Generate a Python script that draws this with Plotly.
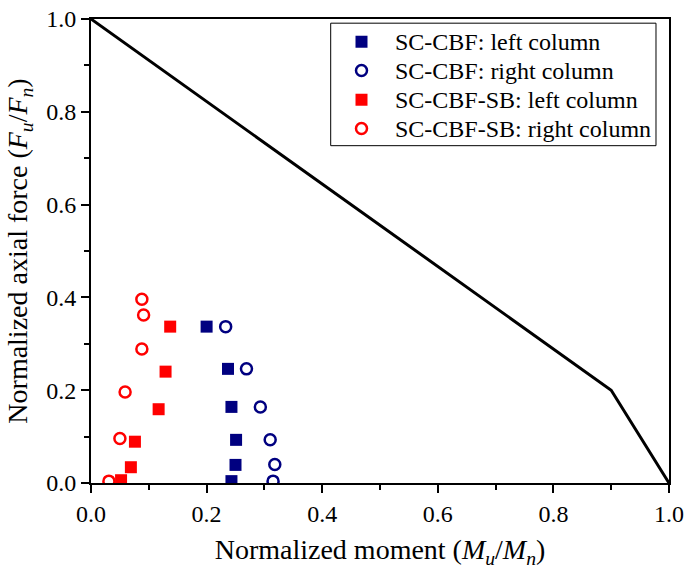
import plotly.graph_objects as go

# Interaction curve
curve_x = [0.0, 0.9, 1.0]
curve_y = [1.0, 0.2, 0.0]

# SC-CBF left column (filled squares, navy)
cbf_left_x = [0.200, 0.237, 0.243, 0.251, 0.250, 0.243]
cbf_left_y = [0.337, 0.246, 0.164, 0.093, 0.039, 0.004]
# SC-CBF right column (open circles, navy)
cbf_right_x = [0.233, 0.269, 0.293, 0.310, 0.318, 0.315]
cbf_right_y = [0.337, 0.246, 0.164, 0.093, 0.040, 0.004]
# SC-CBF-SB left column (filled squares, red)
sb_left_x = [0.137, 0.129, 0.117, 0.076, 0.069, 0.052]
sb_left_y = [0.337, 0.240, 0.159, 0.089, 0.034, 0.006]
# SC-CBF-SB right column (open circles, red)
sb_right_x = [0.088, 0.091, 0.088, 0.059, 0.050, 0.031]
sb_right_y = [0.396, 0.362, 0.289, 0.196, 0.096, 0.004]

series_names = ["SC-CBF: left column", "SC-CBF: right column",
                "SC-CBF-SB: left column", "SC-CBF-SB: right column"]

FONT = "Times New Roman, Liberation Serif, serif"
NAVY = "#000080"
RED = "#FF0000"

markers = [
    dict(symbol="square", size=12, color=NAVY),
    dict(symbol="circle-open", size=11, color=NAVY, line=dict(width=2.5, color=NAVY)),
    dict(symbol="square", size=12, color=RED),
    dict(symbol="circle-open", size=11, color=RED, line=dict(width=2.5, color=RED)),
]
data = [(cbf_left_x, cbf_left_y), (cbf_right_x, cbf_right_y),
        (sb_left_x, sb_left_y), (sb_right_x, sb_right_y)]

fig = go.Figure()
fig.add_trace(go.Scatter(x=curve_x, y=curve_y, mode="lines",
                         line=dict(color="black", width=3), showlegend=False))
for (xs, ys), name, mk in zip(data, series_names, markers):
    fig.add_trace(go.Scatter(x=xs, y=ys, mode="markers", name=name,
                             marker=mk, showlegend=False))

# Manual legend (paper-fraction positions of the plot area)
leg_box = dict(x0=0.4147, x1=0.9775, y0=0.727, y1=0.991)
leg_rows = [0.951, 0.889, 0.826, 0.764]
leg_sym_x = 0.468
leg_txt_x = 0.522

fig.add_shape(type="rect", xref="paper", yref="paper", layer="below",
              line=dict(color="black", width=1), fillcolor="white", **leg_box)
for y, name, mk in zip(leg_rows, series_names, markers):
    fig.add_trace(go.Scatter(x=[leg_sym_x], y=[y], mode="markers", marker=mk,
                             xaxis="x2", yaxis="y2", showlegend=False,
                             hoverinfo="skip"))
    fig.add_annotation(x=leg_txt_x, y=y, xref="paper", yref="paper",
                       text=name, showarrow=False, xanchor="left",
                       yanchor="middle",
                       font=dict(family=FONT, size=24, color="black"))

axis_common = dict(
    range=[0, 1], dtick=0.2, tick0=0, tickformat=".1f",
    showgrid=False, zeroline=False, automargin=False,
    showline=True, linecolor="black", linewidth=2, mirror=True,
    ticks="outside", ticklen=8, tickwidth=1.5, tickcolor="black",
    tickfont=dict(family=FONT, size=24, color="black"),
    minor=dict(dtick=0.1, ticks="outside", ticklen=5, tickwidth=1.5, tickcolor="black"),
)

fig.update_layout(
    width=686, height=573,
    margin=dict(l=91, r=17, t=19, b=90),
    paper_bgcolor="white", plot_bgcolor="white",
    font=dict(family=FONT, color="black"),
    xaxis=dict(**axis_common,
               title=dict(text="Normalized moment (<i>M</i><sub><i>u</i></sub>/<i>M</i><sub><i>n</i></sub>)",
                          font=dict(family=FONT, size=28, color="black"), standoff=14)),
    yaxis=dict(**axis_common,
               title=dict(text="Normalized axial force (<i>F</i><sub><i>u</i></sub>/<i>F</i><sub><i>n</i></sub>)",
                          font=dict(family=FONT, size=28, color="black"), standoff=10)),
    xaxis2=dict(range=[0, 1], overlaying="x", visible=False, domain=[0, 1]),
    yaxis2=dict(range=[0, 1], overlaying="y", visible=False, domain=[0, 1]),
    showlegend=False,
)

fig.write_html("out.html")
